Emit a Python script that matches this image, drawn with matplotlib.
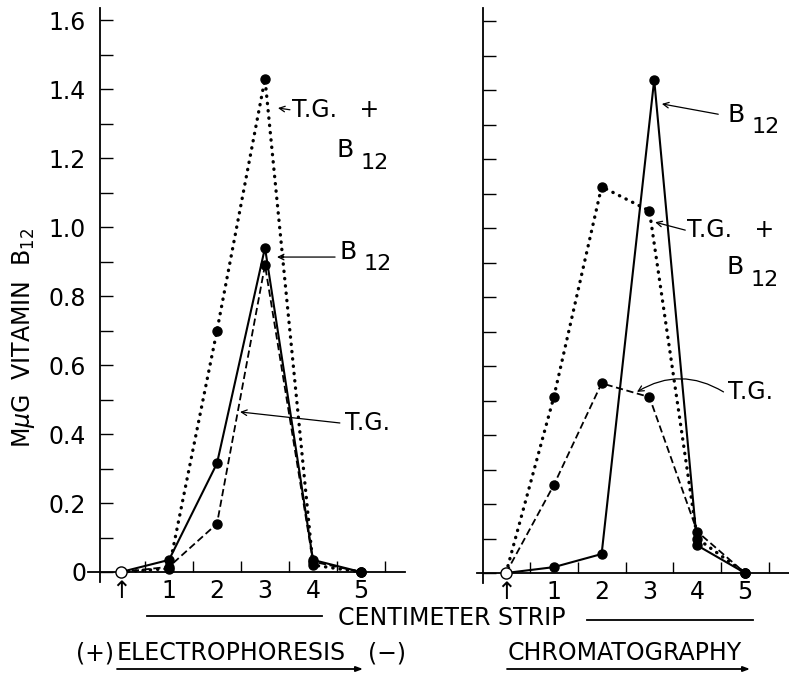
import matplotlib
matplotlib.use("Agg")
import matplotlib.pyplot as plt
from matplotlib.ticker import MultipleLocator, FixedLocator

# centimeter positions along the strip
cm = [0, 1, 2, 3, 4, 5]
cm_peak = [0, 1, 2, 3.1, 4, 5]

# electrophoresis (left panel)
ep_tg_b12 = [0, 0.01, 0.70, 1.43, 0.02, 0]
ep_b12 = [0, 0.035, 0.315, 0.94, 0.035, 0]
ep_tg = [0, 0.015, 0.14, 0.89, 0.03, 0]

# chromatography (right panel)
ch_tg_b12 = [0, 0.51, 1.12, 1.05, 0.10, 0]
ch_b12 = [0, 0.017, 0.055, 1.43, 0.08, 0]
ch_tg = [0, 0.255, 0.55, 0.51, 0.12, 0]

y_ticks = [0, 0.2, 0.4, 0.6, 0.8, 1.0, 1.2, 1.4, 1.6]
y_labels = ["0", "0.2", "0.4", "0.6", "0.8", "1.0", "1.2", "1.4", "1.6"]
x_labels = ["\u2191", "1", "2", "3", "4", "5"]

FS = 17
plt.rcParams["font.family"] = "DejaVu Sans"

fig = plt.figure(figsize=(7.89, 6.73), dpi=100)
axL = fig.add_axes([88/789, 1-582/673, 317/789, 574/673])
axR = fig.add_axes([477/789, 1-583/673, 312/789, 575/673])


def setup(ax, xlim, ylim, yaxis_x, labels):
    ax.set_xlim(*xlim)
    ax.set_ylim(*ylim)
    for s in ["top", "right"]:
        ax.spines[s].set_visible(False)
    ax.spines["left"].set_position(("data", yaxis_x))
    ax.spines["bottom"].set_position(("data", 0))
    ax.spines["left"].set_linewidth(1.3)
    ax.spines["bottom"].set_linewidth(1.3)
    ax.yaxis.set_major_locator(FixedLocator(y_ticks))
    ax.yaxis.set_minor_locator(MultipleLocator(0.1))
    if labels:
        ax.set_yticklabels(y_labels)
    else:
        ax.set_yticklabels([])
    ax.tick_params(axis="y", which="both", direction="in", length=9, width=1,
                   labelsize=FS, pad=10)
    ax.xaxis.set_major_locator(FixedLocator(cm))
    ax.set_xticklabels(x_labels)
    ax.xaxis.set_minor_locator(FixedLocator([0.5, 1.5, 2.5, 3.5, 4.5, 5.5]))
    ax.tick_params(axis="x", which="major", length=0, labelsize=FS, pad=5)
    ax.tick_params(axis="x", which="minor", direction="in", length=8, width=1)


def series(ax, x, y, style):
    kw = dict(color="black", marker="o", ms=6.5, markevery=list(range(1, len(x))),
              zorder=3)
    if style == "dot":
        ax.plot(x, y, linestyle=(0, (0.1, 2.1)), lw=2.4, dash_capstyle="round", **kw)
    elif style == "dash":
        ax.plot(x, y, linestyle=(0, (4, 2)), lw=1.3, **kw)
    else:
        ax.plot(x, y, linestyle="-", lw=1.5, **kw)


def b12(ax, x, y):
    ax.text(x, y, "B", fontsize=FS + 1, ha="left", va="center")
    ax.annotate("12", (x, y), xytext=(17, -9), textcoords="offset points",
                fontsize=FS - 1, ha="left", va="center")


def pointer(ax, head, tail, rad=0.0):
    ax.annotate("", xy=head, xytext=tail,
                arrowprops=dict(arrowstyle="->", lw=0.9, color="black",
                                shrinkA=0, shrinkB=0,
                                connectionstyle="arc3,rad=%s" % rad))


# left: electrophoresis
setup(axL, (-0.6875, 5.917), (-0.029, 1.635), -0.4375, True)
series(axL, cm, ep_tg_b12, "dot")
series(axL, cm, ep_b12, "solid")
series(axL, cm, ep_tg, "dash")
axL.plot([0], [0], "o", ms=8, mfc="white", mec="black", mew=1, zorder=4)

axL.text(3.56, 1.339, "T.G.   +", fontsize=FS, va="center")
pointer(axL, (3.27, 1.345), (3.52, 1.34))
b12(axL, 4.5, 1.223)
b12(axL, 4.56, 0.928)
pointer(axL, (3.25, 0.913), (4.46, 0.913))
axL.text(4.67, 0.432, "T.G.", fontsize=FS, va="center")
pointer(axL, (2.48, 0.464), (4.56, 0.432))

# right: chromatography
setup(axR, (-0.607, 5.92), (-0.029, 1.638), -0.48, False)
series(axR, cm, ch_tg_b12, "dot")
series(axR, cm_peak, ch_b12, "solid")
series(axR, cm, ch_tg, "dash")
axR.plot([0], [0], "o", ms=8, mfc="white", mec="black", mew=1, zorder=4)

b12(axR, 4.64, 1.328)
pointer(axR, (3.26, 1.36), (4.44, 1.33))
axR.text(3.79, 0.994, "T.G.   +", fontsize=FS, va="center")
pointer(axR, (3.12, 1.017), (3.75, 0.994))
b12(axR, 4.62, 0.887)
axR.text(4.64, 0.525, "T.G.", fontsize=FS, va="center")
pointer(axR, (2.74, 0.525), (4.55, 0.525), rad=0.3)

# y label
fig.text(24/789, 1-338/673, r"M$\mu$G  VITAMIN  B$_{12}$", rotation=90,
         fontsize=FS, ha="center", va="center")

# bottom captions
def fx(px):
    return px/789


def fy(py):
    return 1 - py/673


fig.text(fx(452), fy(618), "CENTIMETER STRIP", fontsize=FS, ha="center", va="center")
fig.add_artist(plt.Line2D([fx(147), fx(322)], [fy(616), fy(616)], color="black", lw=1.3))
fig.add_artist(plt.Line2D([fx(587), fx(753)], [fy(620), fy(620)], color="black", lw=1.3))

fig.text(fx(76), fy(653), "(+)", fontsize=FS, ha="left", va="center")
fig.text(fx(117), fy(653), "ELECTROPHORESIS", fontsize=FS, ha="left", va="center")
fig.text(fx(368), fy(653), "(\u2212)", fontsize=FS, ha="left", va="center")
fig.text(fx(508), fy(653), "CHROMATOGRAPHY", fontsize=FS, ha="left", va="center")
for x0, x1 in [(117, 363), (507, 750)]:
    fig.add_artist(matplotlib.patches.FancyArrowPatch(
        (fx(x0), fy(669)), (fx(x1), fy(669)), transform=fig.transFigure,
        arrowstyle="-|>,head_length=4,head_width=1.5", lw=1.3, color="black",
        shrinkA=0, shrinkB=0))

fig.savefig("out.png", dpi=100)
